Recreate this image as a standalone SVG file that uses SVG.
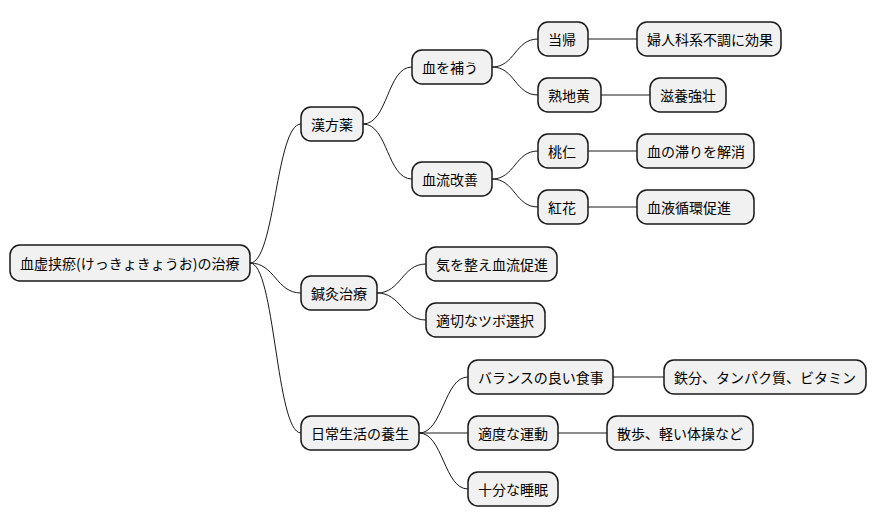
<svg xmlns="http://www.w3.org/2000/svg" width="877" height="527" viewBox="0 0 877 527">
<style>
.n rect{fill:#F1F1F1;stroke:#181818;stroke-width:1.5}
.n text{font-family:"Noto Sans CJK JP","Noto Sans",sans-serif;font-size:14px;fill:#000;dominant-baseline:central}
#c path{fill:none;stroke:#181818;stroke-width:1}
</style>
<rect width="877" height="527" fill="#fff"/>
<g id="c">
<path d="M250 263 C275 263 276 124 301 124"/>
<path d="M250 263 C275 263 276 293 301 293"/>
<path d="M250 263 C275 263 276 433 301 433"/>
<path d="M363 124 C388 124 387 67 412 67"/>
<path d="M363 124 C388 124 387 179 412 179"/>
<path d="M492 67 C515 67 515 39 538 39"/>
<path d="M492 67 C515 67 515 95 538 95"/>
<path d="M492 179 C515 179 515 151 538 151"/>
<path d="M492 179 C515 179 515 207 538 207"/>
<path d="M588 39 L637 39"/>
<path d="M601 95 L650 95"/>
<path d="M588 151 L637 151"/>
<path d="M588 207 L637 207"/>
<path d="M377 293 C401 293 402 264 426 264"/>
<path d="M377 293 C401 293 402 320 426 320"/>
<path d="M419 433 C443 433 444 377 468 377"/>
<path d="M419 433 L468 433"/>
<path d="M419 433 C443 433 444 489 468 489"/>
<path d="M613 377 L664 377"/>
<path d="M558 433 L607 433"/>
</g>
<g id="root" class="n"><rect x="10" y="245" width="240" height="36" rx="10"/><text x="20" y="263">血虚挟瘀(けっきょきょうお)の治療</text></g>
<g id="kampo" class="n"><rect x="301" y="107" width="62" height="34" rx="10"/><text x="311" y="124">漢方薬</text></g>
<g id="hokettsu" class="n"><rect x="412" y="50" width="80" height="34" rx="10"/><text x="422" y="67">血を補う</text></g>
<g id="toki" class="n"><rect x="538" y="22" width="50" height="34" rx="10"/><text x="548" y="39">当帰</text></g>
<g id="toki1" class="n"><rect x="637" y="22" width="144" height="34" rx="10"/><text x="647" y="39">婦人科系不調に効果</text></g>
<g id="jukujio" class="n"><rect x="538" y="78" width="63" height="34" rx="10"/><text x="548" y="95">熟地黄</text></g>
<g id="jukujio1" class="n"><rect x="650" y="78" width="76" height="34" rx="10"/><text x="660" y="95">滋養強壮</text></g>
<g id="ketsuryu" class="n"><rect x="412" y="162" width="80" height="34" rx="10"/><text x="422" y="179">血流改善</text></g>
<g id="tonin" class="n"><rect x="538" y="134" width="50" height="34" rx="10"/><text x="548" y="151">桃仁</text></g>
<g id="tonin1" class="n"><rect x="637" y="134" width="117" height="34" rx="10"/><text x="647" y="151">血の滞りを解消</text></g>
<g id="koka" class="n"><rect x="538" y="190" width="50" height="34" rx="10"/><text x="548" y="207">紅花</text></g>
<g id="koka1" class="n"><rect x="637" y="190" width="117" height="34" rx="10"/><text x="647" y="207">血液循環促進</text></g>
<g id="shinkyu" class="n"><rect x="301" y="276" width="76" height="34" rx="10"/><text x="311" y="293">鍼灸治療</text></g>
<g id="ki" class="n"><rect x="426" y="247" width="131" height="34" rx="10"/><text x="436" y="264">気を整え血流促進</text></g>
<g id="tsubo" class="n"><rect x="426" y="303" width="119" height="34" rx="10"/><text x="436" y="320">適切なツボ選択</text></g>
<g id="yojo" class="n"><rect x="301" y="416" width="118" height="34" rx="10"/><text x="311" y="433">日常生活の養生</text></g>
<g id="shokuji" class="n"><rect x="468" y="360" width="145" height="34" rx="10"/><text x="478" y="377">バランスの良い食事</text></g>
<g id="shokuji1" class="n"><rect x="664" y="360" width="202" height="34" rx="10"/><text x="674" y="377">鉄分、タンパク質、ビタミン</text></g>
<g id="undo" class="n"><rect x="468" y="416" width="90" height="34" rx="10"/><text x="478" y="433">適度な運動</text></g>
<g id="undo1" class="n"><rect x="607" y="416" width="146" height="34" rx="10"/><text x="617" y="433">散歩、軽い体操など</text></g>
<g id="suimin" class="n"><rect x="468" y="472" width="90" height="34" rx="10"/><text x="478" y="489">十分な睡眠</text></g>
</svg>
